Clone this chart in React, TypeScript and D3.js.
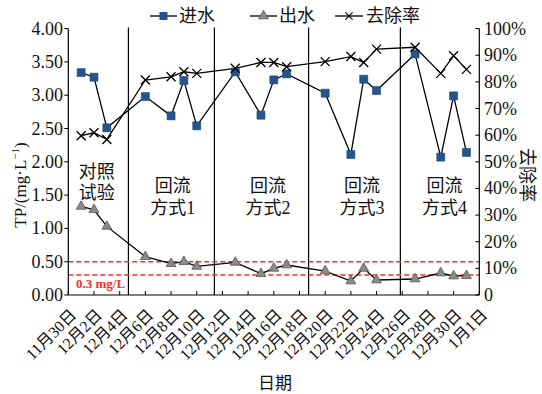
import React from "react";
import * as d3 from "d3";

// Sampling dates (month-day) and the measured series
const sampleDates = [
  "12-01", "12-02", "12-03", "12-06", "12-08", "12-09", "12-10", "12-13", "12-15", "12-16",
  "12-17", "12-20", "12-22", "12-23", "12-24", "12-27", "12-29", "12-30", "12-31",
];
// Influent TP (mg/L)
const inflowTP = [3.34, 3.27, 2.51, 2.98, 2.69, 3.22, 2.54, 3.35, 2.7, 3.23, 3.32, 3.03, 2.11, 3.24, 3.07, 3.62, 2.07, 2.99, 2.14];
// Effluent TP (mg/L)
const outflowTP = [1.33, 1.28, 1.03, 0.575, 0.47, 0.5, 0.43, 0.49, 0.32, 0.4, 0.45, 0.36, 0.21, 0.4, 0.225, 0.24, 0.33, 0.285, 0.29];
// Removal rate (%)
const removalRate = [59.8, 60.9, 58.4, 80.7, 81.9, 83.8, 83.2, 85.1, 87.3, 87.3, 85.7, 87.6, 89.5, 87.3, 92.3, 93.0, 83.2, 89.8, 84.7];

// x-axis ticks every two days
const xTickDates = [
  "2020-11-30", "2020-12-02", "2020-12-04", "2020-12-06", "2020-12-08", "2020-12-10", "2020-12-12",
  "2020-12-14", "2020-12-16", "2020-12-18", "2020-12-20", "2020-12-22", "2020-12-24", "2020-12-26",
  "2020-12-28", "2020-12-30", "2021-01-01",
];
const leftTicks = [0, 0.5, 1, 1.5, 2, 2.5, 3, 3.5, 4];
const rightTicks = [0, 10, 20, 30, 40, 50, 60, 70, 80, 90, 100];

// Stage boundaries and stage names
const stageBounds = ["2020-12-04T16:20", "2020-12-11T09:00", "2020-12-18T17:00", "2020-12-25T20:30"];
const stageNames = [
  ["对照", "试验"],
  ["回流", "方式1"],
  ["回流", "方式2"],
  ["回流", "方式3"],
  ["回流", "方式4"],
];
const stageCenters = ["2020-12-02T05:00", "2020-12-08T03:00", "2020-12-15T13:00", "2020-12-22T21:00", "2020-12-29T07:00"];
const stageLabelRows = [[172, 193], [186, 208], [186, 208], [186, 208], [186, 208]];

// Discharge limits (mg/L)
const limitLines = [0.5, 0.3];

const W = 542;
const H = 394;
const M = { left: 68.3, right: 479.3, top: 28.6, bottom: 295 };

const parseDay = (s: string) => new Date(s.length === 5 ? `2020-${s}T00:00` : s.length === 10 ? `${s}T00:00` : s);

const serif = "'Liberation Serif', 'Noto Sans CJK SC', serif";
const blue = "#25568b";

export default function App() {
  const x = d3
    .scaleTime()
    .domain([parseDay("2020-11-30"), parseDay("2021-01-01")])
    .range([M.left, M.right]);
  const yL = d3.scaleLinear().domain([0, 4]).range([M.bottom, M.top]);
  const yR = d3.scaleLinear().domain([0, 100]).range([M.bottom, M.top]);

  const dates = sampleDates.map(parseDay);
  const lineL = d3
    .line<number>()
    .x((_, i) => x(dates[i]))
    .y((v) => yL(v));
  const lineR = d3
    .line<number>()
    .x((_, i) => x(dates[i]))
    .y((v) => yR(v));

  const sq = d3.symbol().type(d3.symbolSquare).size(64)() as string;
  const tri = d3.symbol().type(d3.symbolTriangle).size(42)() as string;
  const cross = "M-4.5,-4.5L4.5,4.5M-4.5,4.5L4.5,-4.5";

  const fmtTick = (s: string) => {
    const d = parseDay(s);
    return `${d.getMonth() + 1}月${d.getDate()}日`;
  };

  return (
    <svg
      width={W}
      height={H}
      style={{ position: "absolute", left: 0, top: 0, background: "#fff" }}
      fontFamily={serif}
    >
      <rect width={W} height={H} fill="#fff" />

      {/* stage dividers */}
      {stageBounds.map((s) => (
        <line key={s} x1={x(parseDay(s))} x2={x(parseDay(s))} y1={M.top - 1} y2={M.bottom} stroke="#000" strokeWidth={1.2} />
      ))}

      {/* stage names */}
      {stageNames.map((rows, i) => (
        <g key={i} fontSize={18} textAnchor="middle" fill="#111">
          {rows.map((r, j) => (
            <text key={j} x={x(parseDay(stageCenters[i]))} y={stageLabelRows[i][j]} dominantBaseline="central">
              {r}
            </text>
          ))}
        </g>
      ))}

      {/* limit lines */}
      {limitLines.map((v) => (
        <line key={v} x1={M.left} x2={M.right} y1={yL(v)} y2={yL(v)} stroke="#ff2a2a" strokeWidth={1.4} strokeDasharray="5,3" />
      ))}
      <text x={76} y={288} fill="#ff2a2a" fontSize={13} fontWeight="bold">
        0.3 mg/L
      </text>

      {/* axes */}
      <line x1={M.left} x2={M.left} y1={M.top} y2={M.bottom} stroke="#000" strokeWidth={1.2} />
      <line x1={M.right} x2={M.right} y1={M.top} y2={M.bottom} stroke="#000" strokeWidth={1.2} />
      <line x1={M.left} x2={M.right} y1={M.bottom} y2={M.bottom} stroke="#000" strokeWidth={1.2} />

      {leftTicks.map((t) => (
        <g key={t}>
          <line x1={M.left - 4} x2={M.left} y1={yL(t)} y2={yL(t)} stroke="#000" />
          <text x={63} y={yL(t)} textAnchor="end" dominantBaseline="central" fontSize={18} fill="#111">
            {t.toFixed(2)}
          </text>
        </g>
      ))}
      {rightTicks.map((t) => (
        <g key={t}>
          <line x1={M.right - 4} x2={M.right} y1={yR(t)} y2={yR(t)} stroke="#000" />
          <text x={484} y={yR(t)} dominantBaseline="central" fontSize={18} fill="#111">
            {t === 0 ? "0" : `${t}%`}
          </text>
        </g>
      ))}
      {xTickDates.map((s) => {
        const px = x(parseDay(s));
        return (
          <g key={s}>
            <line x1={px} x2={px} y1={M.bottom - 4} y2={M.bottom} stroke="#000" />
            <text
              transform={`translate(${px + 9},${M.bottom + 21}) rotate(-45)`}
              textAnchor="end"
              fontSize={16}
              fill="#111"
            >
              {fmtTick(s)}
            </text>
          </g>
        );
      })}

      {/* axis titles */}
      <text transform="translate(26,185) rotate(-90)" textAnchor="middle" fontSize={17} fill="#111">
        TP/(mg·L
        <tspan dy={-7} fontSize={11}>
          −1
        </tspan>
        <tspan dy={7}>)</tspan>
      </text>
      <text transform="translate(527,175) rotate(90)" textAnchor="middle" dominantBaseline="central" fontSize={18} fill="#111">
        去除率
      </text>
      <text x={275} y={383} textAnchor="middle" dominantBaseline="central" fontSize={17} fill="#111">
        日期
      </text>

      {/* series */}
      <path d={lineR(removalRate) ?? ""} fill="none" stroke="#000" strokeWidth={1.3} />
      <path d={lineL(inflowTP) ?? ""} fill="none" stroke="#000" strokeWidth={1.3} />
      <path d={lineL(outflowTP) ?? ""} fill="none" stroke="#000" strokeWidth={1.3} />

      {inflowTP.map((v, i) => (
        <path key={`in${i}`} d={sq} transform={`translate(${x(dates[i])},${yL(v)})`} fill={blue} stroke="#1d4470" strokeWidth={0.6} />
      ))}
      {outflowTP.map((v, i) => (
        <path key={`out${i}`} d={tri} transform={`translate(${x(dates[i])},${yL(v)})`} fill="#8a8a8a" stroke="#555" strokeWidth={0.8} />
      ))}
      {removalRate.map((v, i) => (
        <path key={`rm${i}`} d={cross} transform={`translate(${x(dates[i])},${yR(v)})`} fill="none" stroke="#000" strokeWidth={1.3} />
      ))}

      {/* legend */}
      <g fontSize={18} fill="#111">
        <line x1={150} x2={177} y1={16} y2={16} stroke="#000" strokeWidth={1.3} />
        <path d={sq} transform="translate(163.5,16)" fill={blue} />
        <text x={179} y={16} dominantBaseline="central">进水</text>

        <line x1={250} x2={277} y1={16} y2={16} stroke="#000" strokeWidth={1.3} />
        <path d={tri} transform="translate(263.5,16)" fill="#8a8a8a" stroke="#555" strokeWidth={0.8} />
        <text x={279} y={16} dominantBaseline="central">出水</text>

        <line x1={335} x2={363} y1={16} y2={16} stroke="#000" strokeWidth={1.3} />
        <path d={cross} transform="translate(349,16) scale(0.8)" fill="none" stroke="#000" strokeWidth={1.4} />
        <text x={366} y={16} dominantBaseline="central">去除率</text>
      </g>
    </svg>
  );
}
